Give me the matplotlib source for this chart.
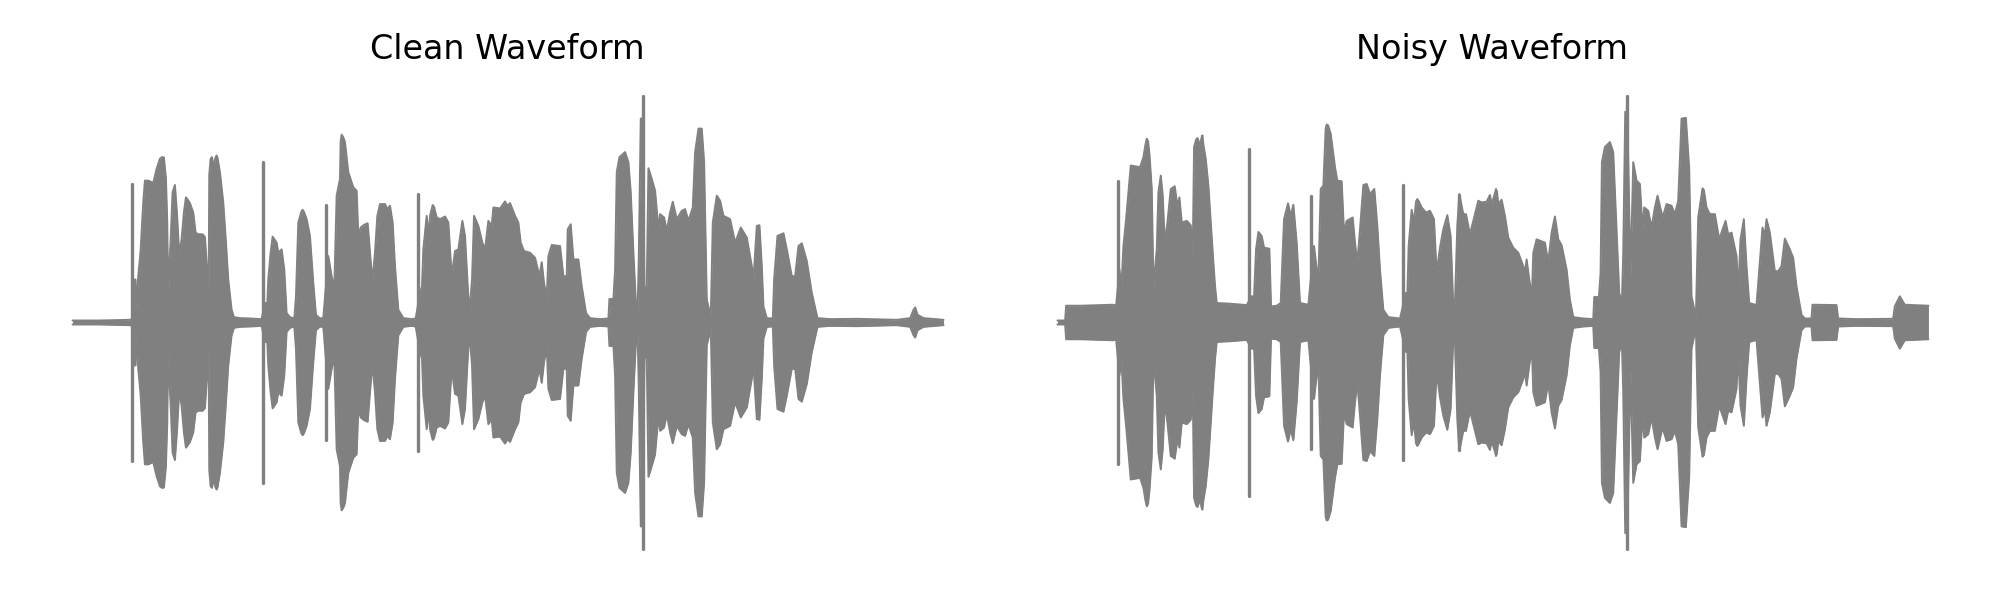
import matplotlib
matplotlib.use('Agg')
import matplotlib.pyplot as plt
import numpy as np

# envelope of each waveform (time in ms, amplitude in arbitrary units)
clean_ms = [68, 100, 150, 200, 240, 247, 252, 257, 260, 265, 272, 280, 285, 295, 310, 320, 330, 336, 342, 348, 352, 355, 358, 362, 368, 372, 375, 381, 388, 395, 402, 408, 412, 420, 430, 437, 445, 458, 465, 472, 476, 478, 482, 486, 492, 496, 500, 503, 510, 520, 528, 535, 545, 552, 570, 600, 635,
            645, 652, 655, 662, 668, 680, 685, 695, 703, 710, 720, 733, 738, 745, 754, 758, 762, 770, 780, 790, 798, 810, 820,
            835, 845, 853, 860, 870, 872, 875, 880, 885, 895, 910, 920, 925, 932, 942, 953, 960, 967, 975, 982, 990, 1005, 1012, 1020, 1028, 1035, 1045, 1060, 1085, 1097,
            1110, 1116, 1120, 1130, 1137, 1140, 1148, 1152, 1160, 1170, 1185, 1195, 1205, 1215, 1225, 1237, 1245, 1252, 1258, 1266, 1272, 1285, 1297, 1305, 1315, 1325, 1330, 1350,
            1365, 1372, 1380, 1395, 1405, 1412, 1422, 1440, 1455, 1468, 1475, 1482, 1490, 1495, 1505, 1530, 1540, 1550, 1553, 1562, 1570, 1585, 1595, 1600, 1608, 1620, 1650, 1675,
            1678, 1690, 1695, 1700, 1708, 1725, 1735, 1742, 1750, 1758, 1762, 1766, 1772, 1778, 1783, 1790, 1795, 1805, 1815, 1825, 1830, 1842, 1850, 1860, 1868, 1880, 1895, 1905, 1915, 1928, 1935, 1945, 1955, 1962, 1970, 1982,
            1988, 2000, 2010, 2020, 2040, 2055, 2072, 2090, 2105, 2110, 2120, 2128, 2135, 2140, 2150, 2168, 2172, 2182, 2200, 2210, 2225, 2235, 2245, 2255, 2270, 2285, 2302, 2340, 2420, 2540, 2580, 2590, 2595, 2602, 2620, 2680]
clean_env = [6, 6, 6, 7, 8, 10, 128, 128, 38, 138, 213, 358, 423, 423, 416, 458, 488, 493, 492, 430, 300, 58, 168, 240, 388, 400, 410, 328, 203, 248, 328, 373, 368, 356, 328, 268, 263, 263, 255, 150, 68, 440, 488, 493, 463, 490, 498, 490, 448, 358, 240, 128, 38, 16, 13, 12, 10,
             58, 58, 128, 208, 256, 238, 208, 218, 158, 28, 16, 12, 78, 298, 330, 336, 330, 308, 258, 118, 23, 12, 14,
             198, 138, 103, 378, 428, 540, 560, 552, 538, 448, 403, 393, 258, 283, 291, 296, 208, 123, 208, 318, 353, 353, 338, 348, 298, 168, 38, 13, 10, 12,
             88, 108, 218, 318, 258, 318, 350, 345, 313, 308, 316, 298, 138, 213, 218, 303, 258, 128, 28, 128, 318, 288, 238, 218, 303, 288, 343, 340,
             361, 348, 356, 318, 298, 238, 213, 208, 193, 138, 180, 118, 73, 198, 231, 228, 138, 138, 278, 293, 188, 188, 108, 78, 28, 13, 10, 12,
             70, 70, 158, 448, 493, 508, 478, 388, 208, 48, 13, 188, 608, 608, 98, 108, 460, 428, 393, 278, 323, 313, 273, 328, 360, 308, 333, 338, 303, 343, 508, 578, 578, 478, 68, 18,
             298, 378, 363, 318, 308, 238, 283, 253, 168, 128, 288, 290, 168, 48, 13, 12, 128, 258, 266, 218, 138, 138, 228, 236, 183, 88, 13, 10, 11, 8, 13, 38, 45, 23, 13, 8]
clean_spike_ms = [247, 640, 828, 1104, 1778]
clean_spike_amp = [412, 479, 351, 384, 674]

noisy_ms = [52, 75, 78, 120, 220, 228, 238, 244, 250, 258, 265, 272, 300, 310, 316, 320, 324, 328, 335, 340, 350, 355, 362, 368, 374, 382, 392, 404, 412, 418, 425, 440, 452, 458, 462, 468, 472, 476, 480, 484, 487, 490, 497, 505, 518, 525, 530, 570, 620,
            635, 642, 648, 655, 665, 672, 688, 693, 710, 722, 732, 744, 752, 760, 770, 780, 805,
            822, 835, 842, 850, 857, 860, 864, 872, 885, 892, 905, 912, 920, 938, 945, 952, 960, 970, 980, 990, 1003, 1012, 1020, 1030, 1045, 1080,
            1098, 1102, 1106, 1115, 1122, 1128, 1132, 1136, 1145, 1158, 1170, 1182, 1190, 1200, 1210, 1222, 1232, 1240, 1245, 1252, 1258, 1270, 1278, 1290, 1300, 1315, 1325, 1340, 1350,
            1355, 1365, 1368, 1371, 1375, 1385, 1395, 1405, 1420, 1435, 1450, 1455, 1460, 1468, 1476, 1480, 1490, 1515, 1525, 1535, 1545, 1555, 1565, 1580, 1590, 1600, 1630, 1660,
            1663, 1677, 1682, 1686, 1695, 1710, 1720, 1730, 1738, 1746, 1750, 1756, 1762, 1772, 1780, 1790, 1800, 1808, 1813, 1825, 1835, 1845, 1853, 1868, 1880, 1895, 1905, 1915, 1925, 1938, 1948, 1955, 1968,
            1975, 1985, 1988, 1992, 2000, 2010, 2025, 2038, 2057, 2065, 2075, 2090, 2095, 2102, 2112, 2120, 2128, 2150, 2156, 2168, 2175, 2180, 2190, 2205, 2215, 2225, 2235, 2250, 2260, 2270, 2285, 2295, 2315,
            2318, 2390, 2395, 2450, 2560, 2565, 2580, 2595, 2666]
noisy_env = [6, 6, 50, 50, 53, 50, 158, 108, 228, 308, 388, 468, 463, 493, 530, 548, 540, 503, 400, 108, 218, 388, 438, 378, 238, 298, 398, 406, 348, 373, 298, 303, 290, 200, 523, 545, 550, 540, 523, 550, 558, 530, 488, 408, 208, 108, 58, 56, 52,
             78, 78, 218, 270, 258, 223, 220, 48, 50, 58, 308, 355, 318, 351, 238, 58, 53,
             228, 118, 398, 408, 580, 590, 588, 563, 463, 423, 421, 268, 303, 313, 238, 178, 278, 410, 413, 383, 398, 288, 158, 38, 16, 12,
             88, 78, 228, 336, 298, 360, 368, 362, 343, 328, 333, 308, 148, 223, 278, 320, 258, 48, 58, 288, 383, 323, 323, 263, 303, 363, 358, 360, 380,
             353, 385, 398, 390, 353, 366, 318, 253, 223, 208, 168, 148, 188, 128, 78, 208, 248, 238, 180, 268, 316, 248, 231, 158, 68, 16, 12, 10,
             76, 76, 148, 478, 523, 538, 508, 278, 88, 60, 208, 628, 628, 138, 478, 423, 413, 278, 343, 333, 283, 343, 378, 313, 353, 348, 323, 363, 608, 610, 458, 78, 16,
             313, 380, 400, 395, 343, 323, 323, 248, 303, 263, 268, 198, 88, 248, 308, 168, 58, 52, 128, 283, 258, 308, 268, 153, 153, 168, 250, 218, 193, 108, 23, 12, 12,
             53, 52, 12, 10, 11, 48, 78, 53, 50]
noisy_spike_ms = [233, 626, 814, 1089, 1258, 1762]
noisy_spike_amp = [422, 517, 376, 410, 379, 674]

titles = ['Clean Waveform', 'Noisy Waveform']
series = [(clean_ms, clean_env, clean_spike_ms, clean_spike_amp),
          (noisy_ms, noisy_env, noisy_spike_ms, noisy_spike_amp)]

fig, axes = plt.subplots(1, 2, figsize=(20, 6), dpi=100)

for ax, title, (ms, env, spike_ms, spike_amp) in zip(axes, titles, series):
    ms = np.array(ms)
    env = np.array(env)
    ax.fill_between(ms, -env, env, color='gray', linewidth=0)
    ax.plot(ms, env, color='gray', linewidth=1.4, solid_capstyle='round')
    ax.plot(ms, -env, color='gray', linewidth=1.4, solid_capstyle='round')
    # the short clicks stand out as single thin strokes
    for t, a in zip(spike_ms, spike_amp):
        ax.plot([t, t], [-a, a], color='gray', linewidth=2.4, solid_capstyle='round')
    ax.set_title(title, fontsize=24, pad=11, x=0.499)
    ax.axis('off')

plt.subplots_adjust(left=0.0145, right=0.986, bottom=0.048, top=0.877, wspace=0.028)
plt.savefig('out.png', dpi=100)
